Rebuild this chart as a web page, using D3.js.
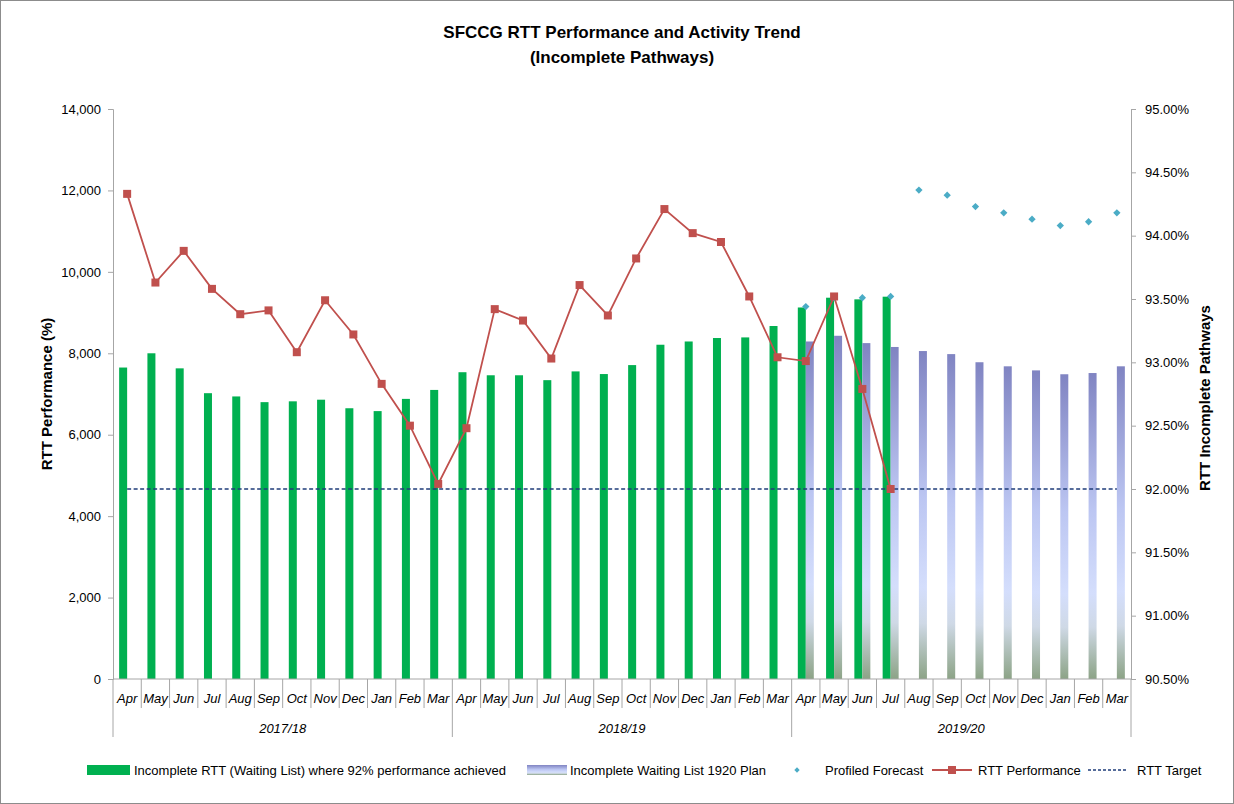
<!DOCTYPE html>
<html>
<head>
<meta charset="utf-8">
<script src="https://cdn.jsdelivr.net/npm/d3@7"></script>
<style>
  html, body { margin: 0; padding: 0; background: #fff; }
  svg { display: block; }
  text { font-family: "Liberation Sans Narrow", "Liberation Sans", Arial, sans-serif; fill: #000; }
</style>
</head>
<body>
<svg id="chart" width="1234" height="804"></svg>
<script>
// ---------- DATA ----------
const months = ["Apr","May","Jun","Jul","Aug","Sep","Oct","Nov","Dec","Jan","Feb","Mar",
                "Apr","May","Jun","Jul","Aug","Sep","Oct","Nov","Dec","Jan","Feb","Mar",
                "Apr","May","Jun","Jul","Aug","Sep","Oct","Nov","Dec","Jan","Feb","Mar"];
const years = ["2017/18","2018/19","2019/20"];
// Incomplete RTT (Waiting List) where 92% performance achieved
const waitingList = [7650,8000,7630,7020,6940,6800,6820,6860,6650,6580,6880,7100,
                     7535,7460,7460,7340,7555,7490,7710,8210,8290,8375,8390,8670,
                     9125,9365,9325,9390,null,null,null,null,null,null,null,null];
// Incomplete Waiting List 1920 Plan
const plan1920 = [null,null,null,null,null,null,null,null,null,null,null,null,
                  null,null,null,null,null,null,null,null,null,null,null,null,
                  8290,8430,8250,8155,8055,7980,7780,7680,7580,7485,7515,7680];
// Profiled Forecast (%)
const forecast = [null,null,null,null,null,null,null,null,null,null,null,null,
                  null,null,null,null,null,null,null,null,null,null,null,null,
                  93.44,93.51,93.51,93.52,94.36,94.32,94.23,94.18,94.13,94.08,94.11,94.18];
// RTT Performance (%)
const performance = [94.33,93.63,93.88,93.58,93.38,93.41,93.08,93.49,93.22,92.83,92.50,92.04,
                     92.48,93.42,93.33,93.03,93.61,93.37,93.82,94.21,94.02,93.95,93.52,93.04,
                     93.01,93.52,92.79,92.00,null,null,null,null,null,null,null,null];
const target = 92.0;
const leftTicks = [0,2000,4000,6000,8000,10000,12000,14000];
const rightTicks = [90.5,91,91.5,92,92.5,93,93.5,94,94.5,95];

// ---------- LAYOUT ----------
const svg = d3.select("#chart");
const L = 113, R = 1131, T = 109, B = 679;

svg.append("rect").attr("x",0.5).attr("y",0.5).attr("width",1233).attr("height",803)
  .attr("fill","#fff").attr("stroke","#8c8c8c").attr("stroke-width",1);

const idx = d3.range(months.length);
const x = d3.scaleBand().domain(idx).range([L,R]).padding(0);
const bw = x.bandwidth();
const sub = d3.scaleBand().domain(["a","p"]).range([-8,8]).padding(0);
const yL = d3.scaleLinear().domain([0,14000]).range([B,T]);
const yR = d3.scaleLinear().domain([90.5,95]).range([B,T]);
const cx = i => x(i) + bw/2;

// gradient
const defs = svg.append("defs");
const g1 = defs.append("linearGradient").attr("id","planGrad")
  .attr("x1",0).attr("y1",0).attr("x2",0).attr("y2",1);
[[0,"#8084c2"],[0.45,"#bcc6f2"],[0.72,"#d4defc"],[0.83,"#cfd9e6"],[1,"#8ca386"]]
  .forEach(([o,c]) => g1.append("stop").attr("offset",o).attr("stop-color",c));

// axes
const axL = d3.axisLeft(yL).tickValues(leftTicks).tickSize(5).tickFormat(d3.format(","));
const gL = svg.append("g").attr("transform",`translate(${L},0)`).call(axL);
const axR = d3.axisRight(yR).tickValues(rightTicks).tickSize(5).tickFormat(d => d.toFixed(2)+"%");
const gR = svg.append("g").attr("transform",`translate(${R},0)`).call(axR);
[gL,gR].forEach(g => {
  g.select(".domain").attr("stroke","#a6a6a6");
  g.selectAll(".tick line").attr("stroke","#a6a6a6");
  g.selectAll(".tick text").attr("font-size",13).attr("fill","#000")
    .style("font-family",'"Liberation Sans Narrow","Liberation Sans",Arial,sans-serif');
});
gL.selectAll(".tick text").attr("x",-12);
gR.selectAll(".tick text").attr("x",14);

// bars
svg.append("g").selectAll("rect").data(idx.filter(i => waitingList[i] != null)).join("rect")
  .attr("x", i => cx(i) + sub("a")).attr("width", sub.bandwidth())
  .attr("y", i => yL(waitingList[i])).attr("height", i => yL(0) - yL(waitingList[i]))
  .attr("fill","#00b050");
svg.append("g").selectAll("rect").data(idx.filter(i => plan1920[i] != null)).join("rect")
  .attr("x", i => cx(i) + sub("p")).attr("width", sub.bandwidth())
  .attr("y", i => yL(plan1920[i])).attr("height", i => yL(0) - yL(plan1920[i]))
  .attr("fill","url(#planGrad)");

// x-axis
const xa = svg.append("g");
xa.append("line").attr("x1",L).attr("x2",R).attr("y1",B).attr("y2",B).attr("stroke","#a6a6a6");
xa.selectAll("line.div").data(d3.range(months.length+1)).join("line").attr("class","div")
  .attr("x1", i => i < months.length ? x(i) : R).attr("x2", i => i < months.length ? x(i) : R)
  .attr("y1",B).attr("y2", i => i % 12 === 0 ? 737 : 708)
  .attr("stroke","#a6a6a6");
xa.selectAll("text.m").data(idx).join("text").attr("class","m")
  .attr("x", i => cx(i)).attr("y",703).attr("text-anchor","middle")
  .attr("font-size",13).attr("font-style","italic").text(i => months[i]);
xa.selectAll("text.y").data(years).join("text").attr("class","y")
  .attr("x",(d,k) => (x(k*12) + (k*12+12 < months.length ? x(k*12+12) : R))/2)
  .attr("y",733).attr("text-anchor","middle")
  .attr("font-size",13).attr("font-style","italic").text(d => d);

// target line
svg.append("line").attr("x1",cx(0)).attr("x2",cx(months.length-1))
  .attr("y1",yR(target)).attr("y2",yR(target))
  .attr("stroke","#1f3d7a").attr("stroke-width",1.7).attr("stroke-dasharray","4,2.5");

// performance line
const perfIdx = idx.filter(i => performance[i] != null);
svg.append("path").datum(perfIdx)
  .attr("d", d3.line().x(i => cx(i)).y(i => yR(performance[i])))
  .attr("fill","none").attr("stroke","#c0504d").attr("stroke-width",1.8);

// forecast diamonds
const diamond = d3.symbol().type(d3.symbolDiamond2).size(34);
svg.append("g").selectAll("path").data(idx.filter(i => forecast[i] != null)).join("path")
  .attr("transform", i => `translate(${cx(i)},${yR(forecast[i])})`)
  .attr("d", diamond).attr("fill","#4bacc6");

svg.append("g").selectAll("rect").data(perfIdx).join("rect")
  .attr("x", i => cx(i)-4).attr("y", i => yR(performance[i])-4)
  .attr("width",8).attr("height",8).attr("fill","#c0504d");

// titles
svg.append("text").attr("x",622).attr("y",38).attr("text-anchor","middle")
  .attr("font-size",17).attr("font-weight","bold").text("SFCCG RTT Performance and Activity Trend");
svg.append("text").attr("x",622).attr("y",63).attr("text-anchor","middle")
  .attr("font-size",17).attr("font-weight","bold").text("(Incomplete Pathways)");
svg.append("text").attr("transform","translate(52,394) rotate(-90)").attr("text-anchor","middle")
  .attr("font-size",15).attr("font-weight","bold").text("RTT Performance (%)");
svg.append("text").attr("transform","translate(1210,398) rotate(-90)").attr("text-anchor","middle")
  .attr("font-size",15).attr("font-weight","bold").text("RTT Incomplete Pathways");

// legend
const lg = svg.append("g");
const ly = 770, lfs = 13;
lg.append("rect").attr("x",87).attr("y",ly-5).attr("width",43).attr("height",10).attr("fill","#00b050");
lg.append("text").attr("x",134).attr("y",ly+4.5).attr("font-size",lfs).text("Incomplete RTT (Waiting List) where 92% performance achieved");
lg.append("rect").attr("x",527).attr("y",ly-5).attr("width",40).attr("height",10).attr("fill","url(#planGrad)");
lg.append("text").attr("x",570).attr("y",ly+4.5).attr("font-size",lfs).text("Incomplete Waiting List 1920 Plan");
lg.append("path").attr("transform",`translate(797,${ly})`).attr("d",d3.symbol().type(d3.symbolDiamond2).size(18)).attr("fill","#4bacc6");
lg.append("text").attr("x",825).attr("y",ly+4.5).attr("font-size",lfs).text("Profiled Forecast");
lg.append("line").attr("x1",932).attr("x2",972).attr("y1",ly).attr("y2",ly).attr("stroke","#c0504d").attr("stroke-width",1.8);
lg.append("rect").attr("x",948).attr("y",ly-4).attr("width",8).attr("height",8).attr("fill","#c0504d");
lg.append("text").attr("x",978).attr("y",ly+4.5).attr("font-size",lfs).text("RTT Performance");
lg.append("line").attr("x1",1088).attr("x2",1126).attr("y1",ly).attr("y2",ly).attr("stroke","#1f3d7a").attr("stroke-width",1.6).attr("stroke-dasharray","3,2");
lg.append("text").attr("x",1137).attr("y",ly+4.5).attr("font-size",lfs).text("RTT Target");
</script>
</body>
</html>
